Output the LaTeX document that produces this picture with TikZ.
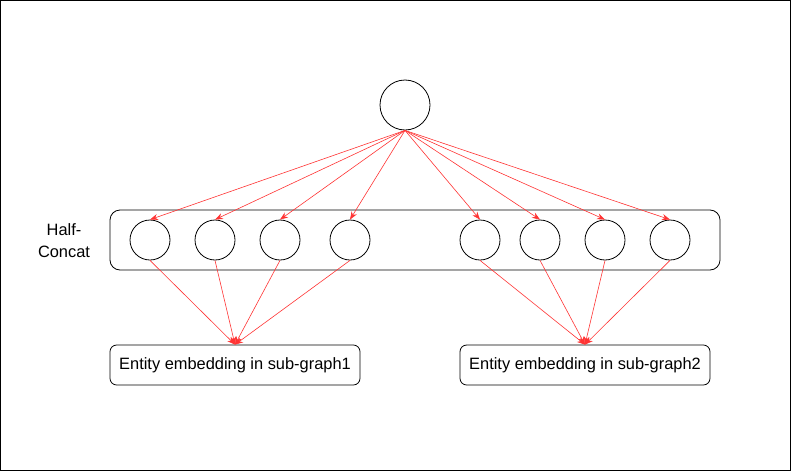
\documentclass[tikz,border=0pt]{standalone}
\usepackage{fontspec}
\setmainfont{Liberation Sans}
\usetikzlibrary{arrows.meta,positioning}

\begin{document}
\begin{tikzpicture}[x=0.75pt,y=-0.75pt]
\tikzset{
	unit/.style={draw, circle, minimum size=30pt, inner sep=0pt, line width=0.6pt},
	redarrow/.style={draw=red!80, line width=0.45pt, -{Stealth[length=6pt,width=4.5pt]}},
	embbox/.style={draw, rounded corners=5pt, minimum width=187.5pt, minimum height=30pt, line width=0.6pt, font=\fontsize{12.3}{14}\selectfont}
}
\useasboundingbox (0,0) rectangle (791,471);
\draw[line width=0.8pt] (0.5,0.5) rectangle (790.5,470.5);
% top unit
\node[unit, minimum size=37.5pt] (T) at (405,105) {};
% half-concat layer
\node[draw, rounded corners=7.5pt, minimum width=457.5pt, minimum height=45pt, line width=0.6pt] (H) at (415,240) {};
\node[align=center, font=\fontsize{12.3}{16.5}\selectfont] (L) at (64,241) {Half-\\Concat};
\node[unit] (A1) at (150,240) {};
\node[unit] (A2) at (215,240) {};
\node[unit] (A3) at (280,240) {};
\node[unit] (A4) at (350,240) {};
\node[unit] (B1) at (480,240) {};
\node[unit] (B2) at (540,240) {};
\node[unit] (B3) at (605,240) {};
\node[unit] (B4) at (670,240) {};
% embeddings
\node[embbox] (E1) at (235,365) {Entity embedding in sub-graph1};
\node[embbox] (E2) at (585,365) {Entity embedding in sub-graph2};
% connections
\foreach \n in {A1,A2,A3,A4,B1,B2,B3,B4}
	\draw[redarrow] (T.south) -- (\n.north);
\foreach \n in {A1,A2,A3,A4}
	\draw[redarrow] (\n.south) -- (E1.north);
\foreach \n in {B1,B2,B3,B4}
	\draw[redarrow] (\n.south) -- (E2.north);
\end{tikzpicture}
\end{document}
